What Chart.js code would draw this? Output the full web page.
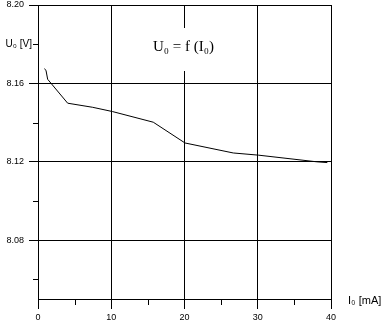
<!DOCTYPE html>
<html>
<head>
<meta charset="utf-8">
<script src="https://cdn.jsdelivr.net/npm/chart.js@4"></script>
<style>
  html, body { margin: 0; padding: 0; background: #fff; }
  canvas { display: block; }
</style>
</head>
<body>
<canvas id="chart" width="387" height="329"></canvas>
<script>
// measured curve U0 = f(I0)
const currentMA = [0.86, 1.09, 1.32, 4.05, 7.47, 10.2, 15.74, 20.07, 26.66, 30.07, 38.05, 39.5];
const voltageV  = [8.1675, 8.1667, 8.1621, 8.1499, 8.1478, 8.1456, 8.1402, 8.1296, 8.1245, 8.1234, 8.1200, 8.1196];

const xTicks = [0, 5, 10, 15, 20, 25, 30, 35, 40];
const xMajor = [0, 10, 20, 30, 40];
const yTicks = [8.06, 8.08, 8.10, 8.12, 8.14, 8.16, 8.18, 8.20];
const yMajor = [8.08, 8.12, 8.16, 8.20];

const titleText = 'U\u2080 = f (I\u2080)';
const yAxisText = 'U\u2080 [V]';
const xAxisText = 'I\u2080 [mA]';

const tickFont = { family: '"Liberation Sans", Arial, sans-serif', size: 9 };

function isMajor(list, v) {
    return list.some(m => Math.abs(m - v) < 1e-6);
}

// short minor ticks, axis captions and the boxed title
const extras = {
    id: 'extras',
    afterDraw(chart) {
        const ctx = chart.ctx;
        const area = chart.chartArea;
        const xs = chart.scales.x;
        const ys = chart.scales.y;
        ctx.save();
        ctx.strokeStyle = '#000';
        ctx.lineWidth = 1;
        ctx.beginPath();
        yTicks.filter(v => !isMajor(yMajor, v)).forEach(v => {
            const py = Math.round(ys.getPixelForValue(v)) + 0.5;
            ctx.moveTo(area.left - 5, py);
            ctx.lineTo(area.left, py);
        });
        xTicks.filter(v => !isMajor(xMajor, v)).forEach(v => {
            const px = Math.round(xs.getPixelForValue(v)) + 0.5;
            ctx.moveTo(px, area.bottom);
            ctx.lineTo(px, area.bottom + 6);
        });
        ctx.stroke();

        ctx.fillStyle = '#000';
        ctx.textBaseline = 'middle';
        ctx.font = '10px "Liberation Sans", Arial, sans-serif';
        ctx.textAlign = 'right';
        ctx.fillText(yAxisText, area.left - 6, ys.getPixelForValue(8.18));
        ctx.font = '11px "Liberation Sans", Arial, sans-serif';
        ctx.textAlign = 'left';
        ctx.fillText(xAxisText, 348, area.bottom + 2);

        // title sits on a white box that cuts the 20 mA grid line
        ctx.fillStyle = '#fff';
        ctx.fillRect(150, 28, 72, 43);
        ctx.fillStyle = '#000';
        ctx.font = '15px "Liberation Serif", "Times New Roman", serif';
        ctx.textBaseline = 'alphabetic';
        ctx.fillText(titleText, 153, 51);
        ctx.restore();
    }
};

const chart = new Chart(document.getElementById('chart'), {
    type: 'line',
    data: {
        datasets: [{
            data: currentMA.map((x, i) => ({ x: x, y: voltageV[i] })),
            borderColor: '#000',
            borderWidth: 1,
            pointRadius: 0,
            tension: 0,
            fill: false
        }]
    },
    options: {
        responsive: false,
        animation: false,
        devicePixelRatio: 1,
        layout: { padding: { top: 5, right: 56, left: 0, bottom: 0 } },
        plugins: {
            legend: { display: false },
            title: { display: false },
            tooltip: { enabled: false }
        },
        scales: {
            x: {
                type: 'linear',
                min: 0,
                max: 40,
                afterBuildTicks: s => { s.ticks = xTicks.map(v => ({ value: v })); },
                afterFit: s => {
                    s.height = 30;
                    s.paddingLeft = 0;
                    s.paddingRight = 0;
                },
                border: { color: '#000', width: 1 },
                grid: {
                    lineWidth: 1,
                    tickLength: 10,
                    color: c => isMajor(xMajor, c.tick.value) ? '#000' : 'rgba(0,0,0,0)',
                    tickColor: c => isMajor(xMajor, c.tick.value) ? '#000' : 'rgba(0,0,0,0)'
                },
                ticks: {
                    autoSkip: false,
                    maxRotation: 0,
                    padding: 3,
                    color: '#000',
                    font: tickFont,
                    callback: v => isMajor(xMajor, v) ? String(v) : ''
                }
            },
            y: {
                type: 'linear',
                min: 8.05,
                max: 8.20,
                afterBuildTicks: s => { s.ticks = yTicks.map(v => ({ value: v })); },
                afterFit: s => {
                    s.width = 38;
                    s.paddingTop = 0;
                    s.paddingBottom = 0;
                },
                border: { color: '#000', width: 1 },
                grid: {
                    lineWidth: 1,
                    tickLength: 9,
                    color: c => isMajor(yMajor, c.tick.value) ? '#000' : 'rgba(0,0,0,0)',
                    tickColor: c => isMajor(yMajor, c.tick.value) ? '#000' : 'rgba(0,0,0,0)'
                },
                ticks: {
                    autoSkip: false,
                    padding: 5,
                    color: '#000',
                    font: tickFont,
                    callback: v => isMajor(yMajor, v) ? v.toFixed(2) : ''
                }
            }
        }
    },
    plugins: [extras]
});
</script>
</body>
</html>
